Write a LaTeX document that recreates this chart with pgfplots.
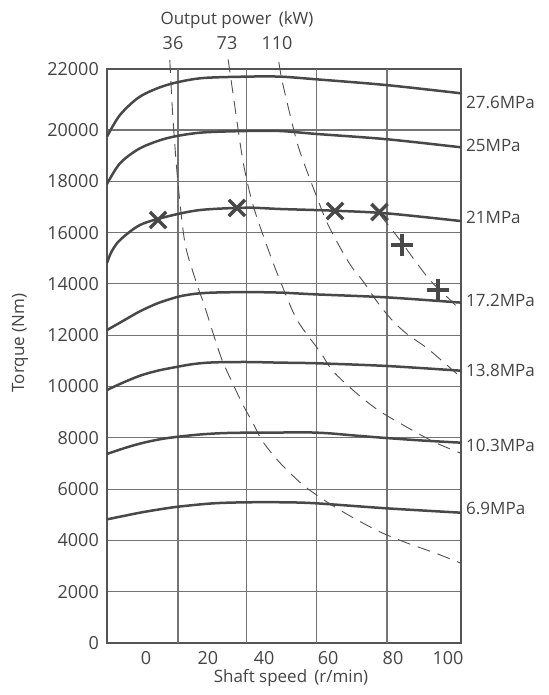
\documentclass[border=0pt]{standalone}
\usepackage{fontspec}
\setmainfont{Open Sans}
\usepackage{pgfplots}
\pgfplotsset{compat=1.18}
\definecolor{curvec}{HTML}{484848}
\definecolor{framec}{HTML}{555555}
\definecolor{gridc}{HTML}{747474}
\definecolor{dashc}{HTML}{505050}
\definecolor{textc}{HTML}{444444}
\newcommand\lf{\fontsize{17bp}{20bp}\selectfont}
\newcommand\tf{\fontsize{18bp}{21bp}\selectfont}
\begin{document}
\begin{tikzpicture}
\useasboundingbox (-107bp,-52bp) rectangle (442bp,643bp);
\begin{axis}[
  at={(0,0)}, anchor=south west,
  scale only axis, width=354bp, height=574bp,
  xmin=-12.9, xmax=104.3, ymin=0, ymax=22378,
  clip=false,
  axis line style={draw=framec, line width=2.6bp},
  major tick length=0pt,
  xtick={0,20.5,39.1,60.3,81.8,100},
  xticklabels={0,20,40,60,80,100},
  ytick={0,2000,4000,6000,8000,10000,12000,14000,16000,18000,20000,22378},
  yticklabels={0,2000,4000,6000,8000,10000,12000,14000,16000,18000,20000,22000},
  scaled y ticks=false, scaled x ticks=false,
  ymajorgrids,
  grid style={draw=gridc, line width=1.1bp},
  extra x ticks={10.6,33.4,56.6,79.8},
  extra x tick labels={},
  extra x tick style={grid=major, major tick length=0pt},
  /pgf/number format/assume math mode=true,
  tick label style={font=\tf, text=textc, inner sep=0pt},
  yticklabel style={anchor=east, xshift=-8bp},
  xticklabel style={anchor=north, yshift=-8.5bp},
]
% constant power lines (dashed)
\addplot[smooth, dashc, line width=0.9bp, dash pattern=on 13bp off 8bp] coordinates {
 (7.9,22730) (8.9,20510) (10.6,17930) (12.9,15600) (16.2,14230) (19.5,13100) (22.2,12085) (25.2,11030) (28.5,10175) (31.8,9355) (35.4,8575) (38.7,7850) (44.4,7020) (52.0,6160) (59.9,5500) (68.2,4910) (77.5,4330) (86.4,3900) (95.7,3510) (104.3,3110)};
\addplot[smooth, dashc, line width=0.9bp, dash pattern=on 13bp off 8bp] coordinates {
 (27.2,22750) (28.8,21440) (32.1,18800) (35.4,17090) (40.1,15460) (44.4,14130) (50.0,12600) (57.6,11360) (61.9,10600) (69.2,9790) (76.8,9083) (84.8,8520) (90.7,8130) (96.4,7780) (104.3,7395)};
\addplot[smooth, dashc, line width=0.9bp, dash pattern=on 13bp off 8bp] coordinates {
 (44.0,22650) (45.0,21950) (47.7,20600) (50.3,19400) (53.6,18300) (56.6,17380) (59.9,16400) (65.2,15220) (68.5,14600) (71.9,14100) (76.8,13260) (81.8,12545) (86.4,12050) (93.0,11500) (99.0,10900) (104.3,10350)};
\addplot[smooth, dashc, line width=0.9bp, dash pattern=on 13bp off 8bp] coordinates {
 (77.5,16690) (84.1,15710) (88.4,15010) (94.0,14150) (99.0,13570) (104.3,12960)};
% pressure curves
\addplot[smooth, curvec, line width=2.5bp] coordinates {
 (-12.9,19740) (-8.6,20585) (-2,21300) (6.8,21750) (17.9,22015) (33.3,22080) (44.4,22080) (56.5,21975) (79.7,21750) (104.3,21430)};
\addplot[smooth, curvec, line width=2.5bp] coordinates {
 (-12.9,17895) (-8.6,18700) (-2,19285) (6.8,19675) (17.9,19895) (33.3,19960) (44.4,19960) (56.5,19845) (79.7,19640) (104.3,19325)};
\addplot[smooth, curvec, line width=2.5bp] coordinates {
 (-12.9,14815) (-11.4,15255) (-8.6,15710) (-2,16295) (6.8,16620) (17.9,16880) (33.3,16970) (44.4,16920) (62,16855) (79.7,16750) (104.3,16450)};
\addplot[smooth, curvec, line width=2.5bp] coordinates {
 (-12.9,12200) (-8,12530) (-2,12930) (4,13250) (10.7,13500) (16,13610) (22,13660) (33.3,13680) (44.4,13660) (56.5,13590) (79.7,13475) (104.3,13270)};
\addplot[smooth, curvec, line width=2.5bp] coordinates {
 (-12.9,9865) (-8,10130) (-2,10420) (4,10620) (10.7,10775) (16,10880) (22.3,10940) (33.3,10955) (44.4,10930) (56.5,10905) (79.7,10800) (104.3,10615)};
\addplot[smooth, curvec, line width=2.5bp] coordinates {
 (-12.9,7370) (-6,7640) (0,7830) (6,7970) (12,8060) (18,8130) (25,8180) (33.3,8200) (44.4,8205) (52,8215) (60,8180) (68,8100) (79.7,7990) (92,7890) (104.3,7810)};
\addplot[smooth, curvec, line width=2.5bp] coordinates {
 (-12.9,4820) (-2,5080) (4,5200) (10.7,5315) (22.3,5445) (33.3,5485) (46,5485) (56.5,5445) (79.7,5250) (104.3,5080)};
% markers
\addplot[only marks, mark=x, mark size=11.5bp, mark options={draw=curvec, line width=3.4bp}] coordinates {
 (4.0,16490) (30.1,16960) (62.6,16840) (77.3,16800)};
\addplot[only marks, mark=+, mark size=11bp, mark options={draw=curvec, line width=3.4bp}] coordinates {
 (84.8,15517) (96.7,13762)};
\end{axis}
% texts
\begin{scope}[every node/.style={text=textc, inner sep=0pt}]
\node[anchor=base, font=\lf] at (130bp,618bp) {Output power\ \,(kW)};
\node[anchor=base, font=\tf] at (66bp,593bp) {36};
\node[anchor=base, font=\tf] at (120bp,593bp) {73};
\node[anchor=base, font=\tf] at (170bp,593bp) {110};
\node[anchor=base, font=\lf] at (184bp,-39bp) {Shaft speed\ \,(r/min)};
\node[rotate=90, font=\lf] at (-87bp,300bp) {Torque (Nm)};
\node[anchor=west, font=\lf] at (359bp,541bp) {27.6MPa};
\node[anchor=west, font=\lf] at (359bp,498bp) {25MPa};
\node[anchor=west, font=\lf] at (359bp,426bp) {21MPa};
\node[anchor=west, font=\lf] at (359bp,343bp) {17.2MPa};
\node[anchor=west, font=\lf] at (359bp,273bp) {13.8MPa};
\node[anchor=west, font=\lf] at (359bp,198bp) {10.3MPa};
\node[anchor=west, font=\lf] at (359bp,135bp) {6.9MPa};
\end{scope}
\end{tikzpicture}
\end{document}
